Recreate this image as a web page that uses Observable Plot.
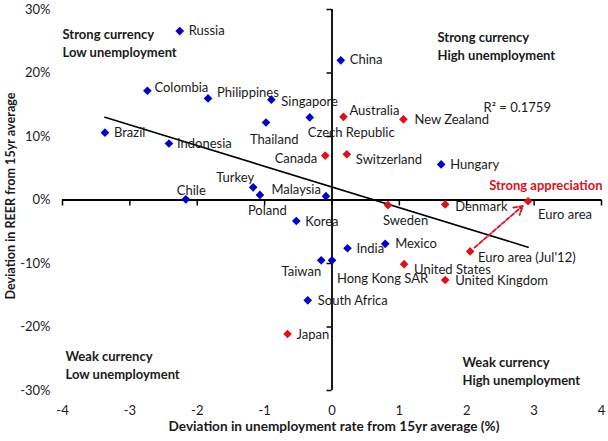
<!DOCTYPE html>
<html>
<head>
<meta charset="utf-8">
<script src="https://cdn.jsdelivr.net/npm/d3@7"></script>
<script src="https://cdn.jsdelivr.net/npm/@observablehq/plot@0.6"></script>
<style>
  html, body { margin: 0; padding: 0; background: #fff; }
  svg { display: block; }
</style>
</head>
<body>
<div id="chart"></div>
<script>
// ---- data ----
const countries = [
  "Russia", "Colombia", "Philippines", "Singapore", "Thailand", "Czech Republic",
  "Brazil", "Indonesia", "Chile", "Turkey", "Poland", "Malaysia", "Korea",
  "China", "Hungary", "India", "Mexico", "Taiwan", "Hong Kong SAR", "South Africa",
  "Japan", "Australia", "New Zealand", "Canada", "Switzerland", "Sweden",
  "Denmark", "Euro area", "Euro area (Jul'12)", "United States", "United Kingdom"
];
const unemploymentDev = [
  -2.26, -2.74, -1.84, -0.90, -0.98, -0.33,
  -3.37, -2.42, -2.17, -1.17, -1.07, -0.09, -0.53,
  0.13, 1.62, 0.23, 0.79, -0.16, 0.00, -0.36,
  -0.66, 0.17, 1.06, -0.10, 0.22, 0.83,
  1.68, 2.91, 2.05, 1.07, 1.68
];
const reerDev = [
  26.6, 17.2, 16.0, 15.8, 12.2, 13.0,
  10.6, 8.9, 0.1, 2.0, 0.8, 0.6, -3.3,
  22.0, 5.6, -7.6, -6.9, -9.5, -9.5, -15.8,
  -21.1, 13.1, 12.7, 7.0, 7.2, -0.8,
  -0.7, -0.2, -8.1, -10.1, -12.6
];
const group = [
  "EM", "EM", "EM", "EM", "EM", "EM",
  "EM", "EM", "EM", "EM", "EM", "EM", "EM",
  "EM", "EM", "EM", "EM", "EM", "EM", "EM",
  "AE", "AE", "AE", "AE", "AE", "AE",
  "AE", "AE", "AE", "AE", "AE"
];
const xTicks = [-4, -3, -2, -1, 0, 1, 2, 3, 4];
const yTicks = [-30, -20, -10, 0, 10, 20, 30];
const rSquaredLabel = "R\u00B2 = 0.1759";
const quadrantLabels = [
  "Strong currency\nLow unemployment",
  "Strong currency\nHigh unemployment",
  "Weak currency\nLow unemployment",
  "Weak currency\nHigh unemployment"
];
const appreciationLabel = "Strong appreciation";
const arrowFrom = "Euro area (Jul'12)";
const arrowTo = "Euro area";
const xTitle = "Deviation in unemployment rate from 15yr average (%)";
const yTitle = "Deviation in REER from 15yr average";

// ---- label placement (style only) ----
const labelPlacement = {
  "Russia": ["start", 9, 0], "Colombia": ["start", 7, -3], "Philippines": ["start", 9, -6],
  "Singapore": ["start", 10, 2], "Thailand": ["start", -16, 17], "Czech Republic": ["start", -2, 15],
  "Brazil": ["start", 9, 0], "Indonesia": ["start", 8, 0], "Chile": ["start", -9, -9],
  "Turkey": ["end", 1, -9], "Poland": ["start", -12, 16], "Malaysia": ["end", -5, -6],
  "Korea": ["start", 9, 1], "China": ["start", 9, 0], "Hungary": ["start", 9, 0],
  "India": ["start", 9, 1], "Mexico": ["start", 10, 0], "Taiwan": ["end", 0, 12],
  "Hong Kong SAR": ["start", 5, 19], "South Africa": ["start", 10, 0], "Japan": ["start", 9, 1],
  "Australia": ["start", 6, -6], "New Zealand": ["start", 11, 0], "Canada": ["end", -8, 3],
  "Switzerland": ["start", 9, 6], "Sweden": ["start", -5, 16], "Denmark": ["start", 10, 2],
  "Euro area": ["start", 10, 14], "Euro area (Jul'12)": ["start", 8, 6],
  "United States": ["start", 10, 6], "United Kingdom": ["start", 10, 1]
};

const data = countries.map((c, i) => ({country: c, x: unemploymentDev[i], y: reerDev[i], group: group[i]}));
const byName = Object.fromEntries(data.map(d => [d.country, d]));
const colors = {EM: "#0000CC", AE: "#E0101A"};
const textColor = "#1a1a1a";
const font = "Lato, 'Open Sans', sans-serif";
const fs = 13;

const labelMarks = data.map(d => {
  const [anchor, dx, dy] = labelPlacement[d.country];
  return Plot.text([d], {x: "x", y: "y", text: "country", textAnchor: anchor, dx, dy,
    fill: textColor, fontSize: fs});
});

const chart = Plot.plot({
  width: 608,
  height: 441,
  marginLeft: 62,
  marginRight: 7,
  marginTop: 9,
  marginBottom: 51,
  style: {fontFamily: font, background: "#fff"},
  x: {domain: [-4, 4]},
  y: {domain: [-30, 30]},
  marks: [
    Plot.axisY(yTicks, {tickSize: 0, tickPadding: 12, tickFormat: d => d + "%", fontSize: fs, fill: textColor, label: null}),
    Plot.axisX(xTicks, {tickSize: 0, tickPadding: 15, tickFormat: d => String(d), fontSize: fs, fill: textColor, label: null}),
    // axes through the origin
    Plot.ruleX([0], {stroke: "#000", strokeWidth: 1.8}),
    Plot.ruleY([0], {stroke: "#000", strokeWidth: 1.8}),
    Plot.ruleX(xTicks, {x: d => d, y1: 0, y2: 0, insetBottom: -6, stroke: "#000", strokeWidth: 1.5}),
    Plot.ruleY(yTicks, {y: d => d, x1: 0, x2: 0, insetLeft: -5, stroke: "#000", strokeWidth: 1.5}),
    // regression line
    Plot.linearRegressionY(data, {x: "x", y: "y", ci: 0, stroke: "#000", strokeWidth: 1.6}),
    // arrow
    Plot.arrow([{a: byName[arrowFrom], b: byName[arrowTo]}], {
      x1: d => d.a.x, y1: d => d.a.y, x2: d => d.b.x, y2: d => d.b.y,
      stroke: colors.AE, strokeWidth: 1.8, strokeDasharray: "4,2", headLength: 8,
      insetStart: 6, insetEnd: 7, bend: 0
    }),
    // points
    Plot.dot(data, {x: "x", y: "y", symbol: "diamond2", r: 3.9, fill: d => colors[d.group], stroke: "none"}),
    ...labelMarks,
    // annotations
    Plot.text([rSquaredLabel], {frameAnchor: "top-right", textAnchor: "start", dx: -118, dy: 93, fill: textColor, fontSize: fs}),
    Plot.text([appreciationLabel], {frameAnchor: "top-right", textAnchor: "end", dx: 1, dy: 171, fill: colors.AE, fontSize: fs, fontWeight: "bold"}),
    Plot.text([quadrantLabels[0]], {frameAnchor: "top-left", textAnchor: "start", lineAnchor: "middle", dx: 0, dy: 33, lineHeight: 1.38, fill: textColor, fontSize: fs, fontWeight: "bold"}),
    Plot.text([quadrantLabels[1]], {frameAnchor: "top-right", textAnchor: "start", lineAnchor: "middle", dx: -164, dy: 36, lineHeight: 1.38, fill: textColor, fontSize: fs, fontWeight: "bold"}),
    Plot.text([quadrantLabels[2]], {frameAnchor: "bottom-left", textAnchor: "start", lineAnchor: "middle", dx: 3, dy: -26, lineHeight: 1.38, fill: textColor, fontSize: fs, fontWeight: "bold"}),
    Plot.text([quadrantLabels[3]], {frameAnchor: "bottom-right", textAnchor: "start", lineAnchor: "middle", dx: -139, dy: -20, lineHeight: 1.38, fill: textColor, fontSize: fs, fontWeight: "bold"}),
    // axis titles
    Plot.text([xTitle], {frameAnchor: "bottom", textAnchor: "middle", dx: 2, dy: 40, fill: textColor, fontSize: 13.6, fontWeight: "bold"}),
    Plot.text([yTitle], {frameAnchor: "left", textAnchor: "middle", dx: -52, dy: -4, rotate: -90, fill: textColor, fontSize: 12.6, fontWeight: "bold"})
  ]
});
document.getElementById("chart").appendChild(chart);
</script>
</body>
</html>
